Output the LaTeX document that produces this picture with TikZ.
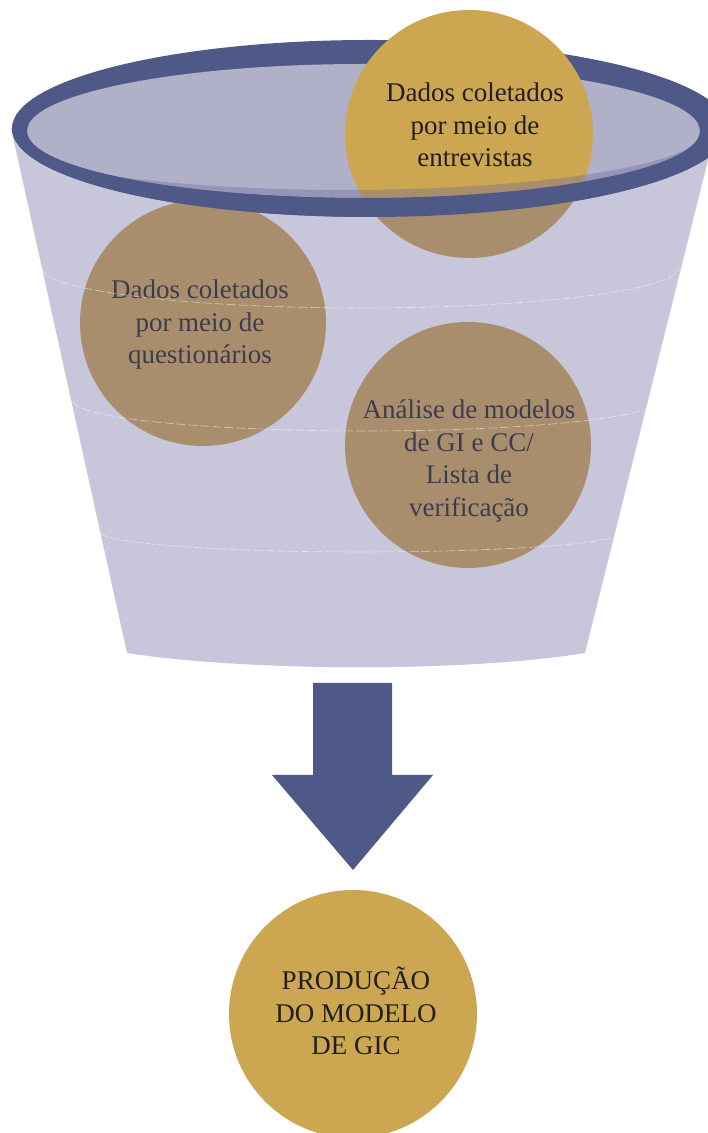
\documentclass[tikz,border=0pt]{standalone}
\usepackage{fontspec}
\setmainfont{Liberation Serif}
\definecolor{rimblue}{HTML}{4F5987}
\definecolor{innerlav}{HTML}{B0B0C8}
\definecolor{overlaycol}{RGB}{110,105,158}
\definecolor{gold}{HTML}{CCA650}
\definecolor{txtdark}{HTML}{231F20}
\tikzset{
  disc/.style={circle, fill=gold, inner sep=0pt, minimum size=#1},
  disctext/.style={align=center, inner sep=0pt, text=txtdark, font=\fontsize{27}{32.5}\selectfont},
  ringline/.style={white, opacity=0.55, line width=0.6pt, dash pattern=on 9pt off 3pt},
}
\begin{document}
\begin{tikzpicture}[x=1pt,y=1pt]
\useasboundingbox (0,0) rectangle (708,1133);
% back of rim and opening
\fill[rimblue] (370,1004.5) ellipse [x radius=358, y radius=88.5];
\fill[innerlav] (363.5,1002) ellipse [x radius=336.5, y radius=67];
% discs
\node[disc=248pt] (c1) at (469,999) {};
\node[disc=246pt] (c2) at (203,810) {};
\node[disc=246pt] (c3) at (468,688) {};
\node[disctext] (t1) at (475,1008) {Dados coletados\\por meio de\\entrevistas};
\node[disctext] (t2) at (200,808) {Dados coletados\\por meio de\\questionários};
\node[disctext] (t3) at (469,672) {Análise de modelos\\de GI e CC/\\Lista de\\verificação};
% funnel body (translucent front)
\fill[overlaycol, fill opacity=0.38]
  (59.8,966.2) arc [start angle=217.4, end angle=351.5, x radius=359, y radius=59]
  -- (716,1005) -- (585,480) .. controls (470,461) and (250,461) .. (127,480)
  -- (11,1005) -- cycle;
% faint rings on body
\draw[ringline] (42,865) arc [start angle=180, end angle=360, x radius=318, y radius=40];
\draw[ringline] (73,732) arc [start angle=180, end angle=360, x radius=292, y radius=30];
\draw[ringline] (100,601) arc [start angle=180, end angle=360, x radius=262, y radius=20];
% front of rim
\begin{scope}
\clip (-10,-10) rectangle (720,1008.5);
\fill[rimblue, even odd rule] (370,1004.5) ellipse [x radius=358, y radius=88.5]
  (363.5,1002) ellipse [x radius=336.5, y radius=67];
\end{scope}
% block arrow
\fill[rimblue] (313,450) -- (392,450) -- (392,358) -- (433,358) -- (353,263)
  -- (272,358) -- (313,358) -- cycle;
% result
\node[disc=248pt] (c4) at (353,119) {};
\node[disctext] (t4) at (356,122) {PRODUÇÃO\\DO MODELO\\DE GIC};
\end{tikzpicture}
\end{document}
